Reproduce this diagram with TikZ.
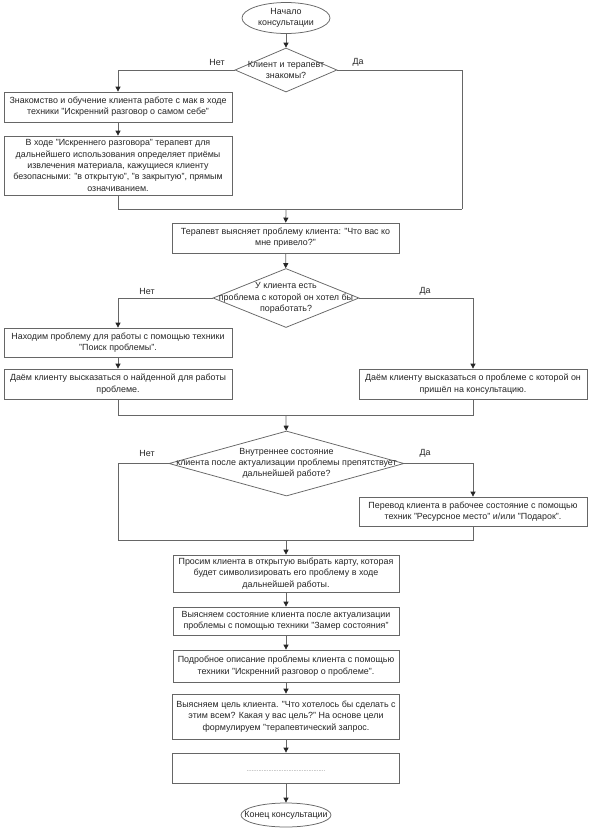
\documentclass[tikz,border=0pt]{standalone}
\usepackage{fontspec}
\setmainfont{Liberation Sans}
\usetikzlibrary{shapes.geometric,arrows.meta}
\begin{document}
\begin{tikzpicture}[x=1pt,y=-1pt,
  lc/.style={draw=black!60, line width=0.75pt},
  arr/.style={lc, -{Triangle[width=5pt,length=5pt,color=black!85]}},
  txt/.style={font=\fontsize{8.9}{11.3}\selectfont, text=black!85, align=center, inner sep=0pt},
  box/.style={lc, rectangle, inner sep=0pt, txt},
  dia/.style={lc, diamond, inner sep=0pt},
  ell/.style={lc, ellipse, inner sep=0pt},
  yn/.style={txt}
]
\path[use as bounding box] (0,0) rectangle (591,831);
\fill[white] (0,0) rectangle (591,831);

% start
\node[ell, minimum width=88pt, minimum height=31pt,
  label={[txt]center:Начало\\консультации}] (start) at (286,18) {};

% decision 1
\node[dia, minimum width=102pt, minimum height=44pt,
  label={[txt]center:Клиент и терапевт\\знакомы?}] (d1) at (286,70) {};
\node[yn] (n1) at (217,62) {Нет};
\node[yn] (y1) at (358,62) {Да};

\node[box, minimum width=228pt, minimum height=30pt] (b1) at (118,107)
  {Знакомство и обучение клиента работе с мак в ходе\\техники "Искренний разговор о самом себе"};
\node[box, minimum width=228pt, minimum height=59pt] (b2) at (118,165.5)
  {В ходе "Искреннего разговора" терапевт для\\дальнейшего использования определяет приёмы\\извлечения материала, кажущиеся клиенту\\безопасными: "в открытую", "в закрытую", прямым\\означиванием.};

\coordinate (m1r) at (462,209);
\coordinate (m1c) at (286,209);

\node[box, minimum width=227pt, minimum height=30pt] (b3) at (285.5,238)
  {Терапевт выясняет проблему клиента: "Что вас ко\\мне привело?"};

% decision 2
\node[dia, minimum width=146pt, minimum height=59pt,
  label={[txt]center:У клиента есть\\проблема с которой он хотел бы\\поработать?}] (d2) at (286,298) {};
\node[yn] (n2) at (147,291) {Нет};
\node[yn] (y2) at (425,291) {Да};

\node[box, minimum width=228pt, minimum height=29pt] (b4) at (118,342.5)
  {Находим проблему для работы с помощью техники\\"Поиск проблемы".};
\node[box, minimum width=228pt, minimum height=30pt] (b5) at (118,384)
  {Даём клиенту высказаться о найденной для работы\\проблеме.};
\node[box, minimum width=228pt, minimum height=30pt] (b6) at (473,384)
  {Даём клиенту высказаться о проблеме с которой он\\пришёл на консультацию.};

\coordinate (m2l) at (118,415);
\coordinate (m2r) at (473,415);
\coordinate (m2c) at (286,415);

% decision 3
\node[dia, minimum width=235pt, minimum height=65pt,
  label={[txt]center:Внутреннее состояние\\клиента после актуализации проблемы препятствует\\дальнейшей работе?}] (d3) at (286.5,463.5) {};
\node[yn] (n3) at (147,453) {Нет};
\node[yn] (y3) at (425,453) {Да};

\node[box, minimum width=228pt, minimum height=29pt] (b7) at (473,511.5)
  {Перевод клиента в рабочее состояние с помощью\\техник "Ресурсное место" и/или "Подарок".};

\coordinate (m3l) at (118,540);
\coordinate (m3c) at (286,540);

\node[box, minimum width=226pt, minimum height=37pt] (b8) at (286,573.5)
  {Просим клиента в открытую выбрать карту, которая\\будет символизировать его проблему в ходе\\дальнейшей работы.};
\node[box, minimum width=226pt, minimum height=28pt] (b9) at (286,621)
  {Выясняем состояние клиента после актуализации\\проблемы с помощью техники "Замер состояния"};
\node[box, minimum width=226pt, minimum height=32pt] (b10) at (286,666)
  {Подробное описание проблемы клиента с помощью\\техники "Искренний разговор о проблеме".};
\node[box, minimum width=227pt, minimum height=45pt] (b11) at (286,716.5)
  {Выясняем цель клиента. "Что хотелось бы сделать с\\этим всем? Какая у вас цель?" На основе цели\\формулируем "терапевтический запрос.};
\node[box, minimum width=227pt, minimum height=30pt] (b12) at (286,768) {};
\node[txt, text=black!55, font=\fontsize{6}{7}\selectfont, anchor=base] (dots) at (286,771)
  {...............................................};

\node[ell, minimum width=90pt, minimum height=24pt,
  label={[txt]center:Конец консультации}] (end) at (286,815) {};

% connectors
\draw[arr] (start) -- (d1);
\draw[arr] (d1.west) -| (b1.north);
\draw[arr] (b1) -- (b2);
\draw[lc] (d1.east) -| (m1r);
\draw[lc] (b2.south) |- (m1r);
\draw[arr] (m1c) -- (b3);
\draw[arr] (b3) -- (d2);
\draw[arr] (d2.west) -| (b4.north);
\draw[arr] (d2.east) -| (b6.north);
\draw[arr] (b4) -- (b5);
\draw[lc] (b5.south) -- (m2l) -- (m2r) -- (b6.south);
\draw[arr] (m2c) -- (d3);
\draw[lc] (d3.west) -| (m3l);
\draw[arr] (d3.east) -| (b7.north);
\draw[lc] (b7.south) |- (m3l);
\draw[arr] (m3c) -- (b8);
\draw[arr] (b8) -- (b9);
\draw[arr] (b9) -- (b10);
\draw[arr] (b10) -- (b11);
\draw[arr] (b11) -- (b12);
\draw[arr] (b12) -- (end);
\end{tikzpicture}
\end{document}
